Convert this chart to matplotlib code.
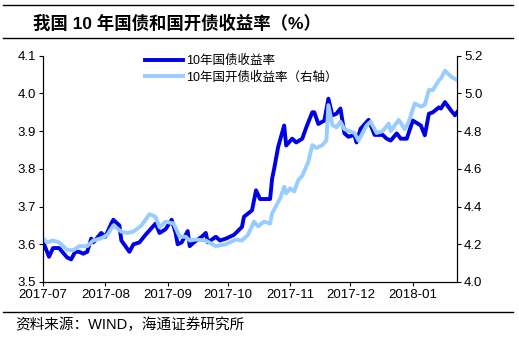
import matplotlib
matplotlib.use("Agg")
import matplotlib.pyplot as plt
import matplotlib.dates as mdates
import pandas as pd

plt.rcParams["font.family"] = ["Liberation Sans", "Noto Sans CJK SC"]

# 10Y treasury yield (left axis)
gov_dates = [
    "2017-07-01", "2017-07-04", "2017-07-06", "2017-07-09", "2017-07-13", "2017-07-15",
    "2017-07-17", "2017-07-19", "2017-07-21", "2017-07-23", "2017-07-25", "2017-07-26",
    "2017-07-30", "2017-08-01", "2017-08-04", "2017-08-05", "2017-08-08", "2017-08-09",
    "2017-08-13", "2017-08-15", "2017-08-18", "2017-08-21", "2017-08-26", "2017-08-28",
    "2017-08-31", "2017-09-03", "2017-09-05", "2017-09-06", "2017-09-08", "2017-09-11",
    "2017-09-12", "2017-09-14", "2017-09-18", "2017-09-20", "2017-09-21", "2017-09-25",
    "2017-09-27", "2017-09-30", "2017-10-04", "2017-10-08", "2017-10-09", "2017-10-13",
    "2017-10-15", "2017-10-17", "2017-10-22", "2017-10-23", "2017-10-24", "2017-10-26",
    "2017-10-29", "2017-10-30", "2017-11-02", "2017-11-04", "2017-11-07", "2017-11-09",
    "2017-11-12", "2017-11-13", "2017-11-15", "2017-11-18", "2017-11-20", "2017-11-22",
    "2017-11-24", "2017-11-26", "2017-11-28", "2017-11-30", "2017-12-03", "2017-12-04",
    "2017-12-06", "2017-12-10", "2017-12-13", "2017-12-17", "2017-12-19", "2017-12-21",
    "2017-12-24", "2017-12-26", "2017-12-29", "2018-01-01", "2018-01-05", "2018-01-07",
    "2018-01-09", "2018-01-11", "2018-01-14", "2018-01-15", "2018-01-17", "2018-01-20",
    "2018-01-22", "2018-01-23",
]
gov_yield = [
    3.607, 3.567, 3.590, 3.590, 3.565, 3.560,
    3.580, 3.580, 3.575, 3.580, 3.615, 3.605,
    3.630, 3.620, 3.655, 3.665, 3.650, 3.610,
    3.580, 3.600, 3.605, 3.625, 3.655, 3.630,
    3.640, 3.665, 3.630, 3.600, 3.605, 3.635,
    3.595, 3.605, 3.620, 3.630, 3.605, 3.620,
    3.610, 3.615, 3.625, 3.646, 3.673, 3.690,
    3.743, 3.720, 3.720, 3.774, 3.800, 3.858,
    3.915, 3.862, 3.880, 3.870, 3.880, 3.910,
    3.950, 3.950, 3.919, 3.928, 3.986, 3.942,
    3.946, 3.960, 3.894, 3.885, 3.890, 3.870,
    3.906, 3.930, 3.890, 3.890, 3.880, 3.875,
    3.894, 3.880, 3.880, 3.928, 3.915, 3.889,
    3.946, 3.950, 3.963, 3.960, 3.977, 3.955,
    3.942, 3.950,
]

# 10Y CDB bond yield (right axis)
cdb_dates = [
    "2017-07-01", "2017-07-03", "2017-07-06", "2017-07-09", "2017-07-13", "2017-07-16",
    "2017-07-19", "2017-07-23", "2017-07-26", "2017-07-30", "2017-08-02", "2017-08-05",
    "2017-08-09", "2017-08-12", "2017-08-15", "2017-08-19", "2017-08-23", "2017-08-26",
    "2017-08-28", "2017-08-31", "2017-09-04", "2017-09-07", "2017-09-10", "2017-09-12",
    "2017-09-15", "2017-09-20", "2017-09-25", "2017-09-30", "2017-10-05", "2017-10-08",
    "2017-10-11", "2017-10-14", "2017-10-16", "2017-10-19", "2017-10-22", "2017-10-23",
    "2017-10-27", "2017-10-29", "2017-10-30", "2017-11-01", "2017-11-03", "2017-11-05",
    "2017-11-07", "2017-11-10", "2017-11-12", "2017-11-14", "2017-11-17", "2017-11-19",
    "2017-11-20", "2017-11-22", "2017-11-24", "2017-11-26", "2017-11-28", "2017-12-03",
    "2017-12-05", "2017-12-09", "2017-12-11", "2017-12-14", "2017-12-17", "2017-12-20",
    "2017-12-21", "2017-12-25", "2017-12-28", "2017-12-30", "2018-01-02", "2018-01-05",
    "2018-01-07", "2018-01-09", "2018-01-11", "2018-01-14", "2018-01-15", "2018-01-17",
    "2018-01-20", "2018-01-23",
]
cdb_yield = [
    4.232, 4.210, 4.220, 4.210, 4.170, 4.168,
    4.190, 4.190, 4.220, 4.232, 4.250, 4.300,
    4.267, 4.260, 4.267, 4.300, 4.360, 4.346,
    4.290, 4.320, 4.310, 4.240, 4.240, 4.220,
    4.225, 4.220, 4.190, 4.200, 4.225, 4.220,
    4.250, 4.320, 4.295, 4.320, 4.310, 4.364,
    4.443, 4.505, 4.470, 4.497, 4.480, 4.540,
    4.563, 4.637, 4.726, 4.710, 4.726, 4.750,
    4.938, 4.832, 4.820, 4.850, 4.810, 4.790,
    4.750, 4.830, 4.850, 4.790, 4.800, 4.840,
    4.800, 4.860, 4.810, 4.850, 4.947, 4.930,
    4.940, 5.018, 5.018, 5.070, 5.080, 5.120,
    5.090, 5.070,
]

gov_x = pd.to_datetime(gov_dates)
cdb_x = pd.to_datetime(cdb_dates)

fig = plt.figure(figsize=(5.19, 3.41), dpi=100)
ax = fig.add_axes([43 / 519, 1 - 282 / 341, (457 - 43) / 519, (282 - 55.7) / 341])
ax2 = ax.twinx()

l1, = ax.plot(gov_x, gov_yield, color="#0000E6", lw=2.8, label="10年国债收益率")
l2, = ax2.plot(cdb_x, cdb_yield, color="#99CCFF", lw=2.8, label="10年国开债收益率（右轴）")

ax.set_ylim(3.5, 4.1)
ax.set_yticks([3.5, 3.6, 3.7, 3.8, 3.9, 4.0, 4.1])
ax2.set_ylim(4.0, 5.2)
ax2.set_yticks([4.0, 4.2, 4.4, 4.6, 4.8, 5.0, 5.2])
ax.set_xlim(pd.Timestamp("2017-07-01"), pd.Timestamp("2018-01-23"))
ax.xaxis.set_major_locator(mdates.MonthLocator())
ax.xaxis.set_major_formatter(mdates.DateFormatter("%Y-%m"))

for a in (ax, ax2):
    a.spines["top"].set_visible(False)
    a.tick_params(labelsize=9.5, length=3, width=0.8, color="black", pad=2)
    for s in a.spines.values():
        s.set_linewidth(0.8)
ax.yaxis.set_major_formatter(plt.FormatStrFormatter("%.1f"))
ax2.yaxis.set_major_formatter(plt.FormatStrFormatter("%.1f"))

fig.legend(handles=[l1, l2], loc="upper left", bbox_to_anchor=(140 / 519, 1 - 50 / 341),
           frameon=False, handlelength=3.0, handletextpad=0.3,
           labelspacing=0.3, borderaxespad=0,
           prop={"family": ["Liberation Sans", "Noto Sans CJK SC"], "size": 9})

# header / footer rules and texts
for y in (4.5, 38, 312):
    fig.add_artist(plt.Line2D([3 / 519, 513 / 519], [1 - y / 341, 1 - y / 341],
                              color="black", lw=1.0))
fig.text(33 / 519, 1 - 23 / 341, "我国 10 年国债和国开债收益率（%）", fontsize=12.5,
         fontweight="bold", va="center", ha="left")
fig.text(15 / 519, 1 - 325 / 341, "资料来源：WIND，海通证券研究所", fontsize=10.5,
         va="center", ha="left")

fig.savefig("out.png", dpi=100)
